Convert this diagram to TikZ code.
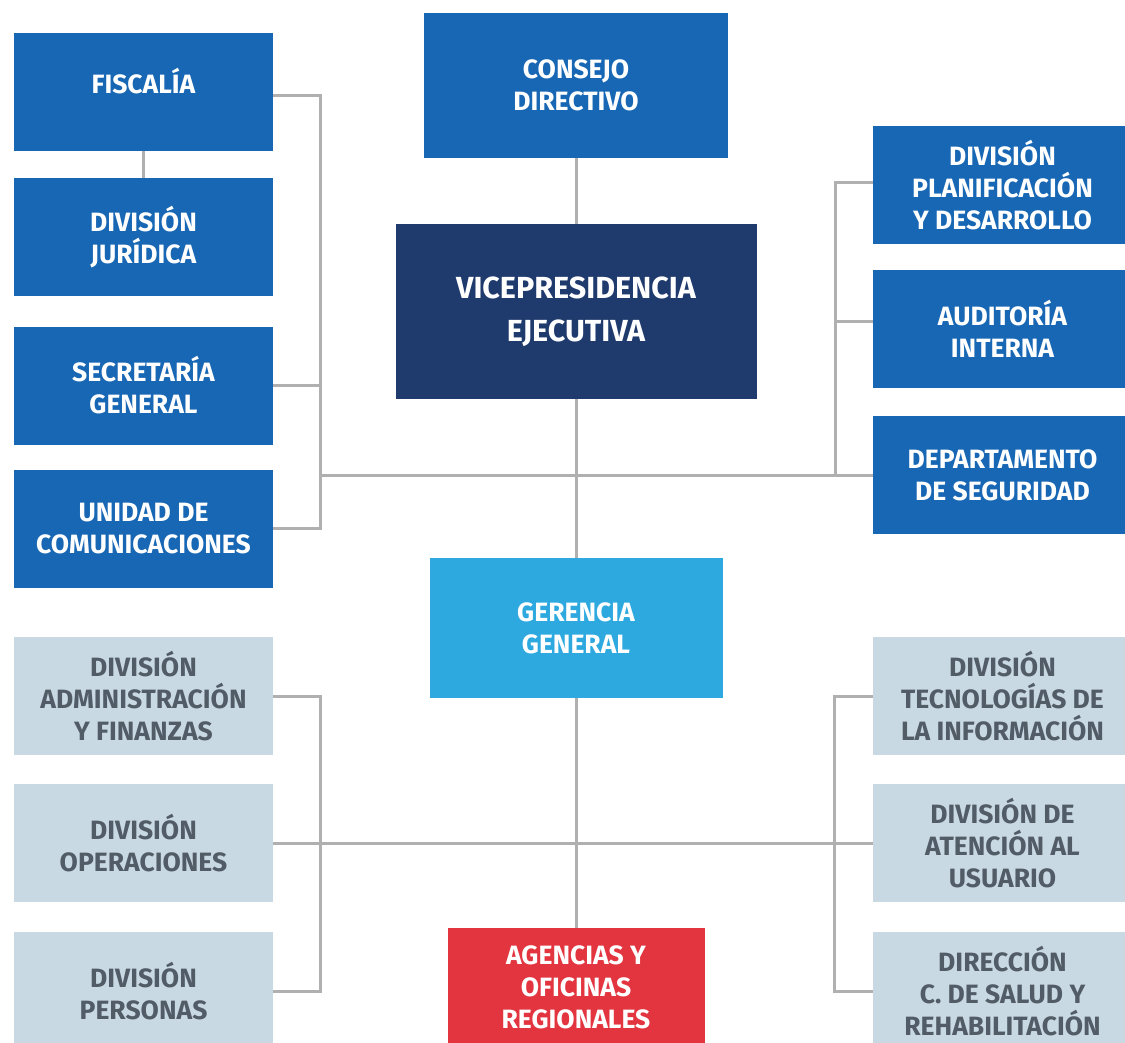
\documentclass[tikz,border=0pt]{standalone}
\usepackage{fontspec}
\setmainfont{Fira Sans}
\usepackage{xcolor}
\usepackage{tikz}
\usetikzlibrary{positioning, calc}

\definecolor{azul}{HTML}{1767B4}
\definecolor{marino}{HTML}{1F3A6D}
\definecolor{celeste}{HTML}{2DA9E0}
\definecolor{rojo}{HTML}{E3353F}
\definecolor{gris}{HTML}{C9D9E3}
\definecolor{grisletra}{HTML}{515C66}
\definecolor{linea}{HTML}{B0B0B0}

\tikzset{
    caja/.style={rectangle, inner sep=0pt, align=center, minimum width=259pt, minimum height=118pt,
        font=\bfseries\fontsize{26.5}{32}\selectfont, fill=azul, text=white},
    cajagris/.style={caja, fill=gris, text=grisletra},
    conector/.style={draw=linea, line width=3pt}
}

\begin{document}
\begin{tikzpicture}[x=1pt, y=-1pt]
    \clip (0,0) rectangle (1125,1043);
    \fill[white] (0,0) rectangle (1125,1043);

    % columna central
    \node[caja, minimum width=304pt, minimum height=145pt] (consejo) at (576, 85.5) {CONSEJO\\DIRECTIVO};
    \node[caja, fill=marino, minimum width=361pt, minimum height=175pt,
          font=\bfseries\fontsize{30.5}{43}\selectfont] (vice) at (576, 311.5) {VICEPRESIDENCIA\\EJECUTIVA};
    \node[caja, fill=celeste, minimum width=293pt, minimum height=140pt] (geren) at (576, 628) {GERENCIA\\GENERAL};
    \node[caja, fill=rojo, minimum width=257pt] (agen) at (576, 987) {AGENCIAS Y\\OFICINAS\\REGIONALES};

    % izquierda arriba
    \node[caja] (fisc) at (143.5, 92) {FISCALÍA\\[-10pt]};
    \node[caja] (jur) at (143.5, 237) {DIVISIÓN\\JURÍDICA};
    \node[caja] (secr) at (143.5, 385.5) {SECRETARÍA\\GENERAL};
    \node[caja] (comu) at (143.5, 528.5) {UNIDAD DE\\COMUNICACIONES};

    % derecha arriba
    \node[caja] (plan) at (1002.5, 185.5) {DIVISIÓN\\PLANIFICACIÓN\\Y DESARROLLO};
    \node[caja] (audit) at (1002.5, 329) {AUDITORÍA\\INTERNA};
    \node[caja] (depto) at (1002.5, 475) {DEPARTAMENTO\\DE SEGURIDAD};

    % izquierda abajo
    \node[cajagris] (admin) at (143.5, 696) {DIVISIÓN\\ADMINISTRACIÓN\\Y FINANZAS};
    \node[cajagris] (oper) at (143.5, 843) {DIVISIÓN\\OPERACIONES};
    \node[cajagris] (pers) at (143.5, 991) {DIVISIÓN\\PERSONAS};

    % derecha abajo
    \node[cajagris] (tecno) at (1002.5, 696) {DIVISIÓN\\TECNOLOGÍAS DE\\LA INFORMACIÓN};
    \node[cajagris] (atenc) at (1002.5, 843) {DIVISIÓN DE\\ATENCIÓN AL\\USUARIO};
    \node[cajagris] (direc) at (1002.5, 991) {DIRECCIÓN\\C. DE SALUD Y\\REHABILITACIÓN};

    % lineas
    \coordinate (lbus) at (320, 475);
    \draw[conector] (consejo) -- (vice);
    \draw[conector] (vice) -- (geren);
    \draw[conector] (geren) -- (agen);
    \draw[conector] (fisc) -- (jur);
    \draw[conector] ([yshift=-4pt]fisc.east) -- ++(47,0) |- (comu.east);
    \draw[conector] (secr.east) -- ++(47,0);
    \draw[conector] (lbus) -- (depto.west);
    \draw[conector] ([yshift=3pt]plan.west) -- ++(-37,0) |- (depto.west);
    \draw[conector] ([yshift=8pt]audit.west) -- ++(-37,0);
    \draw[conector] (oper.east) -- (atenc.west);
    \draw[conector] (admin.east) -- ++(47,0) |- (pers.east);
    \draw[conector] (tecno.west) -- ++(-38,0) |- (direc.west);
\end{tikzpicture}
\end{document}
